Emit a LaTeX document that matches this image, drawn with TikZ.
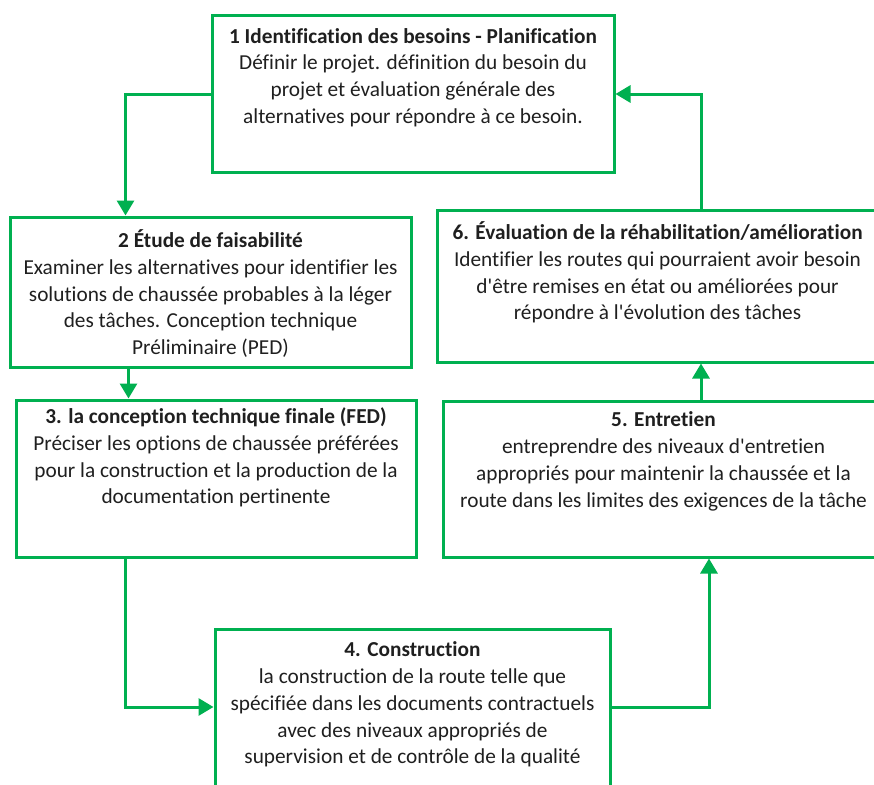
\documentclass[tikz,border=0pt]{standalone}
\usepackage{fontspec}
\setmainfont{Carlito}[Ligatures={NoCommon,TeXOff}]
\usetikzlibrary{arrows.meta}
\definecolor{vert}{HTML}{00B050}
\definecolor{texte}{HTML}{1F1F1F}
\begin{document}
\begin{tikzpicture}[x=1pt,y=-1pt,
  box/.style={rectangle, draw=vert, line width=3pt, inner sep=0pt},
  txt/.style={align=center, inner sep=0pt, text=texte, font=\fontsize{21.3}{26.8}\selectfont, anchor=north},
  arr/.style={draw=vert, line width=3pt, -{Triangle[length=15pt,width=17pt]}}]
  \useasboundingbox (0,0) rectangle (874,784);

  \node[box, minimum width=402pt, minimum height=156pt] (b1) at (413,94) {};
  \node[box, minimum width=401pt, minimum height=150pt] (b2) at (210.5,292) {};
  \node[box, minimum width=400pt, minimum height=157pt] (b3) at (216,478.5) {};
  \node[box, minimum width=395pt, minimum height=162pt] (b4) at (412.5,710) {};
  \node[box, minimum width=437pt, minimum height=156pt] (b5) at (661.5,479) {};
  \node[box, minimum width=443pt, minimum height=152pt] (b6) at (658.5,286) {};

  \node[txt] (t1) at ([yshift=-13.5pt]b1.north) {\textbf{1 Identification des besoins - Planification}\\
    Définir le projet. définition du besoin du\\ projet et évaluation générale des\\ alternatives pour répondre à ce besoin.};
  \node[txt] (t2) at ([yshift=-14pt]b2.north) {\textbf{2 Étude de faisabilité}\\
    Examiner les alternatives pour identifier les\\ solutions de chaussée probables à la léger\\ des tâches. Conception technique\\ Préliminaire (PED)};
  \node[txt] (t3) at ([yshift=-9pt]b3.north) {\textbf{3. la conception technique finale (FED)}\\
    Préciser les options de chaussée préférées\\ pour la construction et la production de la\\ documentation pertinente};
  \node[txt] (t4) at ([yshift=-14pt]b4.north) {\textbf{4. Construction}\\
    la construction de la route telle que\\ spécifiée dans les documents contractuels\\ avec des niveaux appropriés de\\ supervision et de contrôle de la qualité};
  \node[txt] (t5) at ([xshift=2pt,yshift=-12pt]b5.north) {\textbf{5. Entretien}\\
    entreprendre des niveaux d'entretien\\ appropriés pour maintenir la chaussée et la\\ route dans les limites des exigences de la tâche};
  \node[txt] (t6) at ([xshift=-1pt,yshift=-13pt]b6.north) {\textbf{6. Évaluation de la réhabilitation/amélioration}\\
    Identifier les routes qui pourraient avoir besoin\\ d'être remises en état ou améliorées pour\\ répondre à l'évolution des tâches};

  \draw[arr] (b1.west) -| ([xshift=-85pt]b2.north);
  \draw[arr] ([xshift=-82pt]b2.south) -- ([xshift=-82pt]b2.south |- b3.north);
  \draw[arr] ([xshift=-91pt]b3.south) |- ([yshift=3pt]b4.west);
  \draw[arr] ([yshift=3pt]b4.east) -| ([xshift=47.5pt]b5.south);
  \draw[arr] ([xshift=39.5pt]b5.north) -- ([xshift=39.5pt]b5.north |- b6.south);
  \draw[arr] ([xshift=42.5pt]b6.north) |- (b1.east);
\end{tikzpicture}
\end{document}
